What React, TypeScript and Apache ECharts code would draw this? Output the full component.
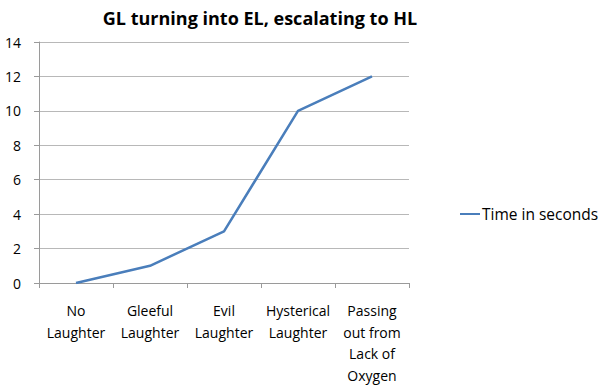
import React, { useEffect, useRef } from "react";
import * as echarts from "echarts";

const categories = [
  "No\nLaughter",
  "Gleeful\nLaughter",
  "Evil\nLaughter",
  "Hysterical\nLaughter",
  "Passing\nout from\nLack of\nOxygen",
];
const timeInSeconds = [0, 1, 3, 10, 12];
const seriesName = "Time in seconds";
const titleText = "GL turning into EL, escalating to HL";

const FONT = "'Open Sans', 'Liberation Sans', sans-serif";

export default function App() {
  const ref = useRef<HTMLDivElement>(null);
  useEffect(() => {
    if (!ref.current) return;
    const chart = echarts.init(ref.current, null, { renderer: "svg" });
    chart.setOption({
      animation: false,
      backgroundColor: "#ffffff",
      title: {
        text: titleText,
        left: 255,
        textAlign: "center",
        top: 4,
        textStyle: { fontFamily: FONT, fontSize: 18, fontWeight: "bold", color: "#000" },
      },
      legend: {
        data: [seriesName],
        left: 455,
        top: 201,
        orient: "vertical",
        icon: "rect",
        itemWidth: 20,
        itemHeight: 2,
        itemGap: 4,
        textStyle: { fontFamily: FONT, fontSize: 15.5, color: "#000", padding: [0, 0, 0, -3] },
      },
      grid: { left: 39, right: 191, top: 42, bottom: 109, containLabel: false },
      xAxis: {
        type: "category",
        data: categories,
        boundaryGap: true,
        axisLine: { lineStyle: { color: "#9a9a9a", width: 1 } },
        axisTick: { show: true, length: 5, lineStyle: { color: "#9a9a9a" }, alignWithLabel: false },
        axisLabel: {
          interval: 0,
          margin: 17,
          fontFamily: FONT,
          fontSize: 14,
          lineHeight: 21.5,
          color: "#000",
          align: "center",
        },
      },
      yAxis: {
        type: "value",
        min: 0,
        max: 14,
        interval: 2,
        axisLine: { show: true, lineStyle: { color: "#9a9a9a", width: 1 } },
        axisTick: { show: true, length: 5, lineStyle: { color: "#9a9a9a" } },
        splitLine: { show: true, lineStyle: { color: "#b8b8b8", width: 1 } },
        axisLabel: { fontFamily: FONT, fontSize: 14, color: "#000", margin: 18 },
      },
      series: [
        {
          name: seriesName,
          type: "line",
          data: timeInSeconds,
          symbol: "none",
          lineStyle: { color: "#4a7ebb", width: 2.5 },
          itemStyle: { color: "#4a7ebb" },
        },
      ],
    });
    return () => chart.dispose();
  }, []);
  return <div ref={ref} style={{ width: 600, height: 392, position: "absolute", left: 0, top: 0 }} />;
}
